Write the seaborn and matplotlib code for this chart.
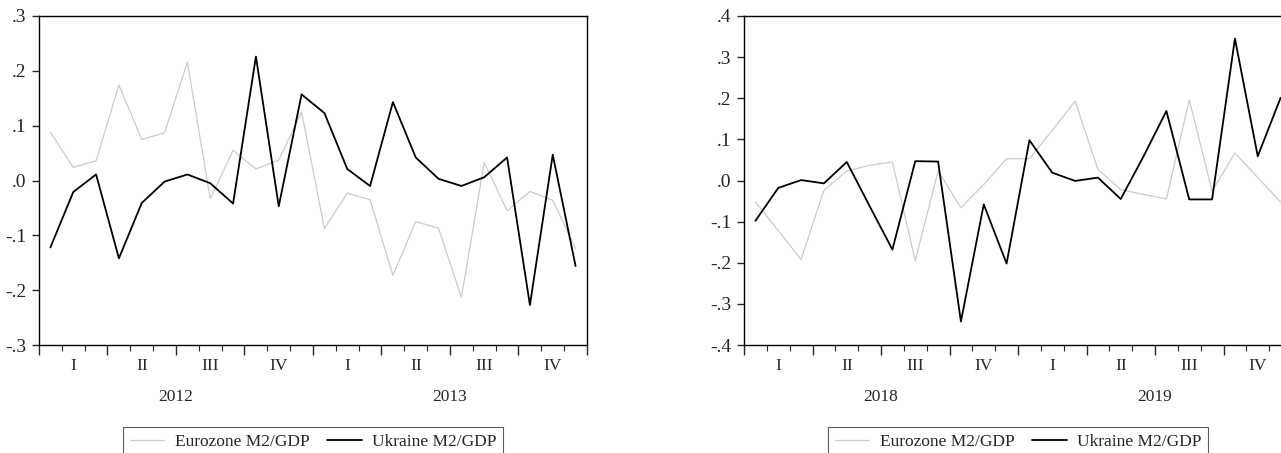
import matplotlib
matplotlib.use("Agg")
import matplotlib.pyplot as plt
import matplotlib.transforms as mtransforms
import numpy as np
import pandas as pd
import seaborn as sns

# monthly values, 24 months per panel
months = np.arange(24) + 0.5
quarters = ["I", "II", "III", "IV", "I", "II", "III", "IV"]

euro_1213 = [0.088, 0.024, 0.036, 0.174, 0.075, 0.087, 0.216, -0.033, 0.055, 0.021, 0.037, 0.125,
             -0.088, -0.023, -0.035, -0.173, -0.075, -0.087, -0.213, 0.033, -0.055, -0.020, -0.036, -0.124]
ukr_1213 = [-0.122, -0.021, 0.011, -0.142, -0.041, -0.002, 0.011, -0.005, -0.042, 0.226, -0.047, 0.157,
            0.123, 0.021, -0.010, 0.143, 0.042, 0.003, -0.010, 0.006, 0.042, -0.227, 0.047, -0.156]

euro_1819 = [-0.052, -0.122, -0.192, -0.024, 0.023, 0.037, 0.045, -0.195, 0.023, -0.066, -0.010, 0.053,
             0.053, 0.122, 0.193, 0.027, -0.022, -0.034, -0.045, 0.196, -0.026, 0.067, 0.007, -0.052]
ukr_1819 = [-0.098, -0.018, 0.001, -0.007, 0.045, -0.062, -0.168, 0.047, 0.046, -0.343, -0.058, -0.202,
            0.098, 0.019, -0.001, 0.007, -0.045, 0.059, 0.169, -0.046, -0.046, 0.345, 0.059, 0.201]

sns.set_style("ticks")
plt.rcParams["font.family"] = ["Liberation Serif", "DejaVu Serif"]
plt.rcParams["font.size"] = 12

fig = plt.figure(figsize=(12.81, 4.53), dpi=100)
W, H = 1281, 453


def panel(left, euro, ukr, years, ylim):
    ax = fig.add_axes([left / W, 1 - 345 / H, 548 / W, 329 / H])
    df = pd.DataFrame({"month": months, "euro": euro, "ukr": ukr})
    sns.lineplot(data=df, x="month", y="euro", ax=ax, color="#cbcbcb", linewidth=0.9,
                 label="Eurozone M2/GDP")
    sns.lineplot(data=df, x="month", y="ukr", ax=ax, color="black", linewidth=1.3,
                 label="Ukraine M2/GDP")
    ax.set_xlim(0, 24)
    ax.set_ylim(*ylim)
    yt = np.round(np.arange(ylim[0], ylim[1] + 0.001, 0.1), 1) + 0.0
    ax.set_yticks(yt)
    ax.set_yticklabels([f"{v:.1f}".replace("0.", ".") for v in yt])
    ax.set_xticks(np.arange(0, 25, 3))
    ax.set_xticks(np.arange(0, 25, 1), minor=True)
    ax.set_xticklabels([])
    ax.set_xlabel("")
    ax.set_ylabel("")
    ax.tick_params(axis="x", which="major", length=7, width=1, direction="out")
    ax.tick_params(axis="x", which="minor", length=4, width=0.8, direction="out")
    ax.tick_params(axis="y", length=5, width=1, direction="out", pad=4, labelsize=14)
    for s in ax.spines.values():
        s.set_linewidth(1.0)
        s.set_color("black")
    trans = mtransforms.blended_transform_factory(ax.transData, ax.transAxes)
    for i, q in enumerate(quarters):
        ax.text(3 * i + 1.5, -0.064, q, transform=trans, ha="center", va="center", fontsize=12.5)
    for i, y in enumerate(years):
        ax.text(12 * i + 6, -0.158, y, transform=trans, ha="center", va="center", fontsize=12.5)
    leg = ax.legend(loc="upper center", bbox_to_anchor=(0.5, -0.249), ncol=2, frameon=True,
                    fancybox=False, fontsize=12.5, handlelength=2.0, columnspacing=1.0,
                    borderpad=0.4, handletextpad=0.6, borderaxespad=0)
    leg.get_frame().set_edgecolor("#333333")
    leg.get_frame().set_linewidth(0.8)
    return ax


panel(39, euro_1213, ukr_1213, ["2012", "2013"], (-0.3, 0.3))
panel(744, euro_1819, ukr_1819, ["2018", "2019"], (-0.4, 0.4))

fig.savefig("out.png", dpi=100)
